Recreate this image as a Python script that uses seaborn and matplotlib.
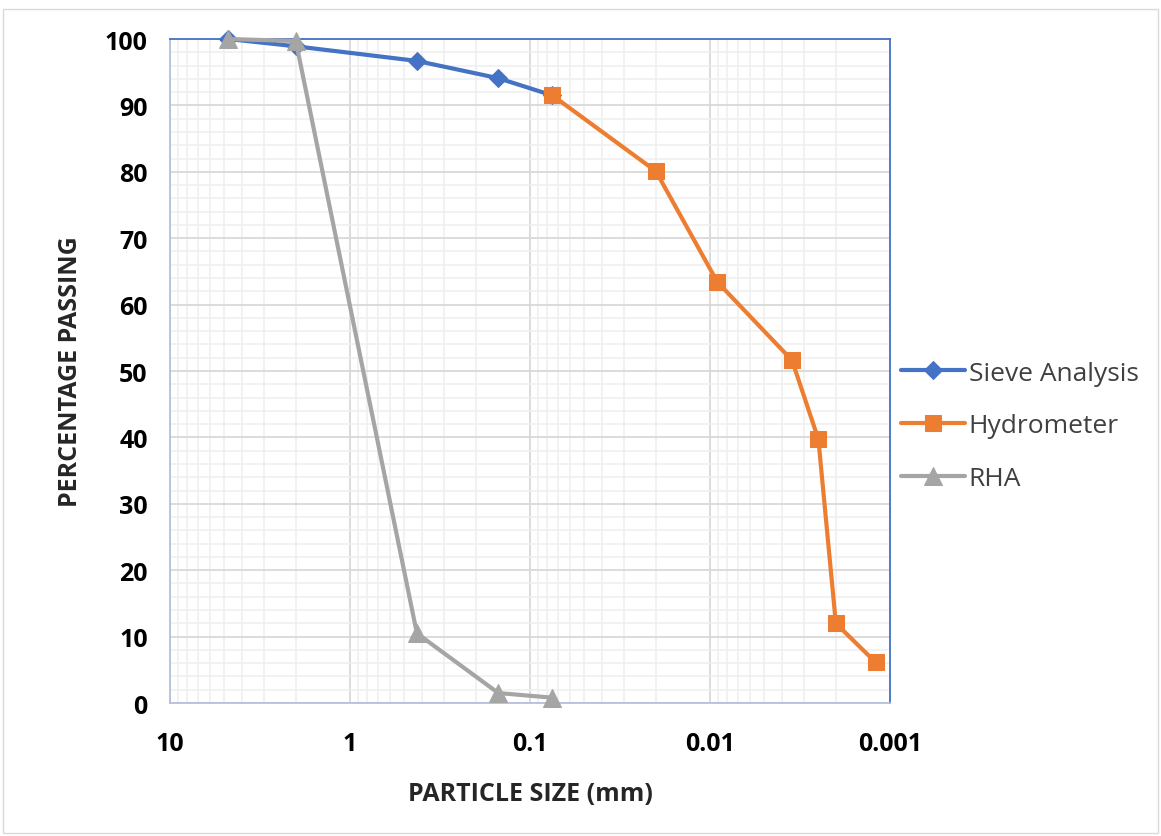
import matplotlib
matplotlib.use("Agg")
import matplotlib.pyplot as plt
import matplotlib.ticker as mticker
import seaborn as sns
import pandas as pd

sieve_size = [4.75, 2.0, 0.425, 0.15, 0.075]
sieve_pass = [100.0, 98.9, 96.7, 94.1, 91.5]
hydro_size = [0.075, 0.020, 0.0091, 0.0035, 0.0025, 0.0020, 0.0012]
hydro_pass = [91.5, 80.1, 63.4, 51.6, 39.7, 12.0, 6.1]
rha_size = [4.75, 2.0, 0.425, 0.15, 0.075]
rha_pass = [100.0, 99.7, 10.5, 1.5, 0.8]
x_ticks = [10, 1, 0.1, 0.01, 0.001]
x_labels = ["10", "1", "0.1", "0.01", "0.001"]

sns.set_theme(style="white")
plt.rcParams['font.family'] = ['Open Sans', 'DejaVu Sans']

fig = plt.figure(figsize=(11.61, 8.37), dpi=100)
fig.patches.append(plt.Rectangle((0.003, 0.003), 0.994, 0.985, transform=fig.transFigure,
                                 fill=False, edgecolor="#d9d9d9", linewidth=1))
ax = fig.add_axes([0.1464, 0.1589, 0.6202, 0.7933])

series = [
    ("Sieve Analysis", sieve_size, sieve_pass, "#4472C4", "D", 9),
    ("Hydrometer", hydro_size, hydro_pass, "#ED7D31", "s", 12),
    ("RHA", rha_size, rha_pass, "#A5A5A5", "^", 13),
]
for name, xs, ys, col, mk, ms in series:
    df = pd.DataFrame({"size": xs, "pass": ys})
    sns.lineplot(data=df, x="size", y="pass", ax=ax, sort=False, color=col,
                 linewidth=3, marker=mk, markersize=ms, markeredgecolor=col,
                 markerfacecolor=col, label=name, zorder=3, clip_on=False)

ax.set_xscale("log")
ax.set_xlim(10, 0.001)
ax.set_ylim(0, 100)
ax.xaxis.set_major_locator(mticker.FixedLocator(x_ticks))
ax.xaxis.set_major_formatter(mticker.FixedFormatter(x_labels))
ax.xaxis.set_minor_locator(mticker.LogLocator(base=10, subs=range(2, 10), numticks=20))
ax.xaxis.set_minor_formatter(mticker.NullFormatter())
ax.yaxis.set_major_locator(mticker.MultipleLocator(10))
ax.yaxis.set_minor_locator(mticker.MultipleLocator(2))

ax.grid(which="major", color="#d9d9d9", linewidth=1.3)
ax.grid(which="minor", color="#efefef", linewidth=1.1)
ax.set_axisbelow(True)

for s in ["left", "bottom"]:
    ax.spines[s].set_color("#b4c0dc")
    ax.spines[s].set_linewidth(1.3)
for s in ["top", "right"]:
    ax.spines[s].set_color("#4472C4")
    ax.spines[s].set_linewidth(1.3)

ax.tick_params(axis="both", which="major", length=8, color="#d9d9d9", width=1.3,
               labelsize=18, pad=6)
ax.tick_params(axis="x", which="major", direction="out", pad=12)
ax.tick_params(axis="y", which="major", direction="out", pad=8)
ax.tick_params(which="minor", length=0)
for lbl in ax.get_xticklabels() + ax.get_yticklabels():
    lbl.set_fontweight("bold")
    lbl.set_color("black")

ax.set_xlabel("PARTICLE SIZE (mm)", fontsize=18, fontweight="bold", labelpad=18)
ax.set_ylabel("PERCENTAGE PASSING", fontsize=18, fontweight="bold", labelpad=16)

ax.legend_.remove()
handles, labels = ax.get_legend_handles_labels()
leg = fig.legend(handles, labels, loc="center left", bbox_to_anchor=(0.756, 0.49),
                 frameon=False, fontsize=19, handlelength=2.4, handletextpad=0.15,
                 labelspacing=1.05, labelcolor="#404040")

fig.savefig("out.png", dpi=100)
